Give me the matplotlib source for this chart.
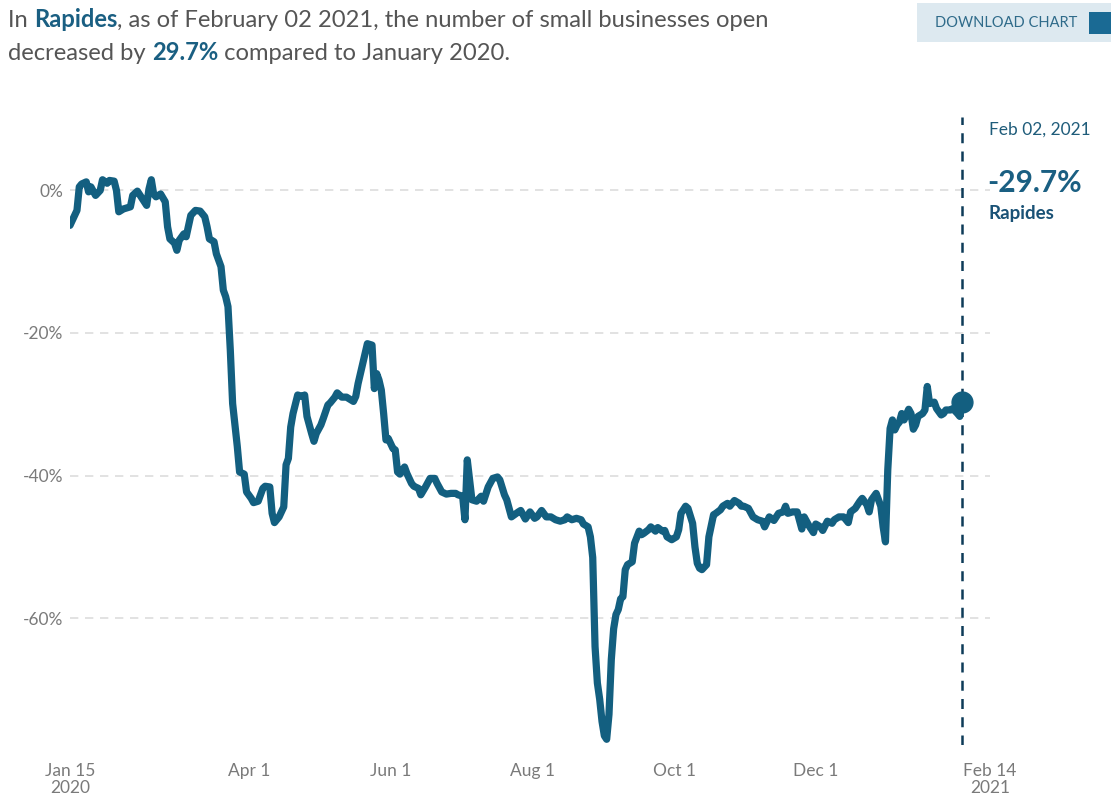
import matplotlib
matplotlib.use("Agg")
import matplotlib.pyplot as plt
import matplotlib.dates as mdates
import pandas as pd
import numpy as np

plt.rcParams['font.family'] = ['Lato', 'DejaVu Sans']

# ---- data: days since 2020-01-15, % change vs Jan 2020 ----
start_date = "2020-01-15"
days = [0, 1, 3, 4, 5, 7, 8, 9, 11, 13, 14, 16, 17, 19, 20, 21, 23, 25, 26, 27,
        29, 30, 33, 34, 35, 36, 37, 39, 41, 42, 43, 45, 46, 47, 49, 50, 52, 54, 56, 58,
        59, 60, 62, 63, 65, 66, 67, 68, 69, 70, 72, 73, 75, 76, 78, 79, 81, 83, 84, 86,
        87, 88, 90, 92, 93, 94, 95, 96, 98, 100, 101, 102, 104, 105, 106, 108, 109, 111, 112, 114,
        115, 117, 119, 122, 123, 124, 126, 127, 128, 130, 131, 132, 133, 134, 135, 136, 137, 139, 140, 141,
        142, 144, 145, 147, 148, 150, 151, 153, 155, 157, 158, 160, 162, 164, 166, 167, 169, 170, 171, 172,
        173, 175, 177, 178, 180, 182, 184, 185, 187, 188, 190, 193, 194, 196, 198, 200, 201, 203, 205, 207,
        209, 211, 213, 214, 216, 218, 220, 221, 223, 224, 225, 226, 227, 228, 229, 230, 231, 232, 233, 234,
        235, 236, 237, 238, 239, 240, 241, 242, 243, 245, 246, 247, 249, 250, 252, 253, 255, 256, 257, 259,
        261, 262, 263, 265, 266, 268, 269, 270, 271, 272, 274, 275, 277, 278, 280, 281, 283, 284, 286, 288,
        289, 290, 292, 294, 296, 298, 299, 301, 303, 305, 307, 308, 309, 311, 313, 315, 316, 318, 320, 321,
        323, 324, 326, 328, 329, 331, 333, 335, 336, 338, 340, 341, 343, 344, 345, 347, 348, 349, 350, 351,
        352, 353, 354, 355, 356, 357, 358, 359, 361, 362, 363, 364, 365, 367, 368, 369, 370, 372, 373, 375,
        376, 377, 379, 380, 382, 383, 384]
values = [-4.9, -4.2, -2.8, 0.5, 0.9, 1.2, -0.2, 0.5, -0.7, 0.0, 1.5, 1.0, 1.4, 1.3, 0.0, -3.0, -2.6, -2.4, -2.3, -0.7,
          -0.1, -0.6, -2.1, 0.2, 1.5, -0.5, -0.9, -0.5, -1.6, -5.1, -6.8, -7.4, -8.4, -7.0, -6.1, -6.5, -3.5, -2.8, -2.9, -3.7,
          -5.1, -6.8, -7.2, -8.9, -10.7, -14.0, -14.9, -16.3, -22.4, -29.9, -35.9, -39.5, -39.8, -42.3, -43.2, -43.8, -43.6, -41.8, -41.5, -41.6,
          -45.3, -46.6, -45.8, -44.4, -38.5, -37.6, -33.2, -31.3, -28.7, -28.9, -28.7, -31.7, -34.1, -35.2, -34.1, -32.9, -32.0, -30.1, -29.8, -29.0,
          -28.4, -29.0, -29.0, -29.6, -28.9, -27.1, -24.3, -22.9, -21.5, -21.7, -27.8, -25.7, -26.6, -28.0, -31.3, -35.0, -34.8, -36.2, -36.4, -39.5,
          -39.8, -38.8, -39.7, -41.1, -41.5, -41.8, -42.7, -41.6, -40.4, -40.4, -41.1, -42.3, -42.6, -42.5, -42.5, -42.7, -42.9, -46.2, -37.8, -40.6,
          -43.4, -43.6, -42.9, -43.6, -41.6, -40.4, -40.2, -40.6, -42.7, -43.4, -45.8, -45.1, -44.9, -46.1, -45.1, -46.0, -45.8, -44.9, -45.8, -45.8,
          -46.2, -46.4, -46.2, -45.8, -46.2, -46.0, -46.2, -46.8, -47.2, -48.6, -51.5, -64.0, -69.1, -71.4, -74.5, -76.5, -77.0, -73.5, -65.8, -61.5,
          -59.5, -58.8, -57.3, -57.0, -53.2, -52.5, -52.3, -52.1, -49.5, -47.8, -48.3, -48.1, -47.6, -47.2, -47.8, -47.3, -47.8, -47.7, -48.6, -49.0,
          -48.6, -47.6, -45.3, -44.3, -44.6, -46.7, -50.0, -52.3, -53.0, -53.2, -52.5, -48.6, -45.5, -45.3, -44.8, -44.3, -43.9, -44.3, -43.5, -43.9,
          -44.3, -44.3, -44.6, -45.8, -46.2, -46.4, -47.2, -45.8, -46.3, -45.3, -45.1, -44.3, -45.3, -45.1, -45.1, -47.5, -45.8, -47.0, -48.0, -46.8,
          -47.2, -47.7, -46.4, -46.7, -46.2, -45.8, -45.8, -46.6, -45.1, -44.6, -43.6, -43.2, -44.1, -45.1, -43.4, -42.5, -43.4, -44.3, -47.2, -49.3,
          -39.2, -33.4, -32.2, -33.6, -32.9, -32.5, -31.3, -32.2, -30.7, -31.3, -33.5, -32.9, -31.7, -31.3, -30.8, -27.5, -29.9, -29.7, -30.6, -31.5,
          -31.3, -30.8, -30.8, -30.6, -31.3, -31.7, -29.7]

yticks = [0, -20, -40, -60]
ytick_labels = ["0%", "-20%", "-40%", "-60%"]
xtick_dates = ["2020-01-15", "2020-04-01", "2020-06-01", "2020-08-01", "2020-10-01", "2020-12-01", "2021-02-14"]
xtick_labels = ["Jan 15\n2020", "Apr 1", "Jun 1", "Aug 1", "Oct 1", "Dec 1", "Feb 14\n2021"]
place = "Rapides"
last_date_label = "Feb 02, 2021"
last_value = -29.7

dates = pd.Timestamp(start_date) + pd.to_timedelta(days, unit="D")

LINE = "#135f80"
DARK = "#0d3b58"
GREY = "#7a7a7a"
TXT = "#555555"

fig = plt.figure(figsize=(11.11, 8.05), dpi=100)
ax = fig.add_axes([70 / 1111, 1 - 745 / 805, 920 / 1111, (745 - 117) / 805])

ax.plot(dates, values, color=LINE, lw=5.2, solid_joinstyle="round", solid_capstyle="round", zorder=3)
ax.plot([dates[-1]], [values[-1]], "o", color=LINE, ms=15, zorder=4)
ax.axvline(dates[-1], color=DARK, lw=1.8, ls=(0, (4, 3.3)), zorder=2)

ax.set_xlim(pd.Timestamp(xtick_dates[0]), pd.Timestamp(xtick_dates[-1]))
ax.set_ylim(-77.8, 10.3)
ax.set_yticks(yticks)
ax.set_yticklabels(ytick_labels)
ax.set_xticks([pd.Timestamp(d) for d in xtick_dates])
ax.set_xticklabels(xtick_labels)
for s in ax.spines.values():
    s.set_visible(False)
ax.tick_params(axis="both", length=0, colors=GREY, labelsize=12.5)
ax.tick_params(axis="x", pad=13)
ax.tick_params(axis="y", pad=5)
for lbl in ax.get_xticklabels():
    lbl.set_linespacing(1.1)
ax.yaxis.grid(True, color="#dddddd", lw=1.2, ls=(0, (5, 4)), zorder=0)
ax.set_axisbelow(True)

# annotation to the right of the marker line
fig.text(989 / 1111, 1 - 130 / 805, last_date_label, color="#1f5c7a", fontsize=12.5, va="center", ha="left")
fig.text(987 / 1111, 1 - 183 / 805, f"{last_value:.1f}%", color="#1a5f82", fontsize=21.5, fontweight="bold", va="center", ha="left")
fig.text(989 / 1111, 1 - 213 / 805, place, color="#1a5276", fontsize=13.5, fontweight="bold", va="center", ha="left")

# title with mixed weights
def rich_line(pieces, x0, y0, size):
    renderer = fig.canvas.get_renderer()
    x = x0
    for txt, bold, col in pieces:
        t = fig.text(x, y0, txt, fontsize=size, fontweight="bold" if bold else "normal",
                     color=col, va="baseline", ha="left")
        bb = t.get_window_extent(renderer=renderer)
        x += bb.width / fig.bbox.width

rich_line([("In ", False, TXT), (place, True, "#1a5f82"),
           (", as of February 02 2021, the number of small businesses open", False, TXT)],
          8 / 1111, 1 - 27 / 805, 17.1)
rich_line([("decreased by ", False, TXT), ("29.7%", True, "#1a5f82"),
           (" compared to January 2020.", False, TXT)],
          8 / 1111, 1 - 60 / 805, 17.1)

# download button
btn = plt.Rectangle((917 / 1111, 1 - 42 / 805), (1111 - 917) / 1111, 39 / 805,
                    transform=fig.transFigure, facecolor="#dde9f0", edgecolor="none")
fig.patches.append(btn)
fig.text(1006 / 1111, 1 - 23 / 805, "DOWNLOAD CHART", color="#2f6b8a", fontsize=10.5,
         ha="center", va="center")
icon = plt.Rectangle((1089 / 1111, 1 - 34 / 805), 22 / 1111, 22 / 805,
                     transform=fig.transFigure, facecolor="#1a6a94", edgecolor="none")
fig.patches.append(icon)

fig.savefig("out.png", dpi=100)
